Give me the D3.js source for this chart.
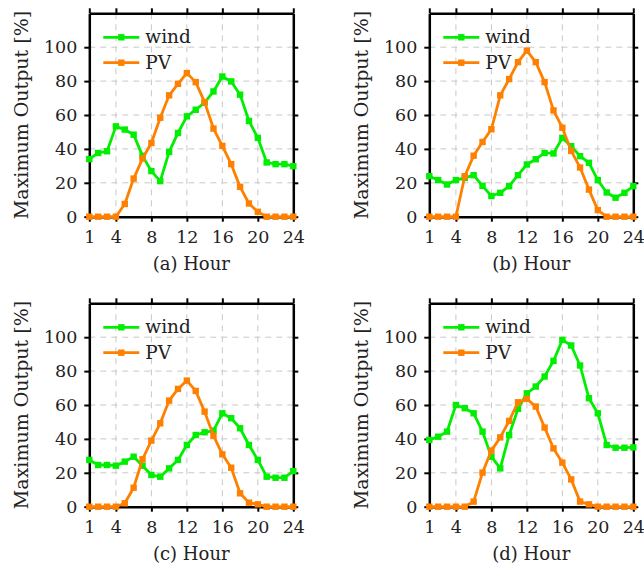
<!DOCTYPE html>
<html>
<head>
<meta charset="utf-8">
<script src="https://cdn.jsdelivr.net/npm/d3@7"></script>
<style>
  html, body { margin: 0; padding: 0; background: #fff; }
  svg { display: block; }
</style>
</head>
<body>
<svg id="chart" width="644" height="573"></svg>
<script>
const hours = [1,2,3,4,5,6,7,8,9,10,11,12,13,14,15,16,17,18,19,20,21,22,23,24];
const xTicks = [1,4,8,12,16,20,24];
const yTicks = [0,20,40,60,80,100];
const seriesNames = ["wind", "PV"];
const panelLabels = ["(a) Hour", "(b) Hour", "(c) Hour", "(d) Hour"];

const windA = [34,37.6,38.6,53.3,51.4,48.4,35.9,26.9,21,38.2,49.4,59.2,63.1,67.3,73.9,82.7,79.8,72,56.5,46.5,32,31,31,29.8];
const pvA   = [0,0,0,0,7.5,22.5,34.3,43.5,58.4,71.6,78.4,84.7,79.4,67.6,52,41.8,31,17.6,7.8,2.9,0,0,0,0];

const windB = [23.9,21.6,19,21.6,22.9,24.5,18.2,12.2,14.1,18,24.5,30.8,33.9,37.6,37.3,46.5,41.6,35.7,31.8,21.6,14.3,11.2,14.1,18];
const pvB   = [0,0,0,0,23.9,36,44.1,51.6,71.6,81.2,91.2,98,91.2,79.4,62.7,52.5,38.8,29,16,3.9,0,0,0,0];

const windC = [27.6,24.6,24.6,24.2,26.6,29.5,24.2,18.7,17.7,22.6,27.6,36.4,42.3,43.9,44.9,55.1,52.2,46.3,36.4,27.6,17.7,17.1,17.1,21];
const pvC   = [0,0,0,0,2,11.2,28,39,49.2,62.6,69.5,74.4,68.3,56.1,41.9,30.9,23,7.9,2.4,1.4,0,0,0,0];

const windD = [39.4,41.3,44.3,60,58.1,55.1,44.3,29.5,22.6,42.3,57.7,66.9,70.9,76.8,86,98.4,95.1,83.3,64,55.1,36.4,34.8,34.8,35];
const pvD   = [0,0,0,0,0,3,20.1,33.1,40.9,50.6,61.6,63.6,59.1,46.7,34.4,26,16.1,3,1.4,0,0,0,0,0];

const panels = [
  {label: panelLabels[0], wind: windA, pv: pvA, left: 89.3,  top: 13.3},
  {label: panelLabels[1], wind: windB, pv: pvB, left: 429.3, top: 13.3},
  {label: panelLabels[2], wind: windC, pv: pvC, left: 89.3,  top: 303.3},
  {label: panelLabels[3], wind: windD, pv: pvD, left: 429.3, top: 303.3}
];

const W = 204, H = 203.4;
const colors = {wind: "#00ee00", PV: "#ff8000"};
const FONT = "'DejaVu Serif', serif";
const svg = d3.select("#chart");

panels.forEach(p => {
  const g = svg.append("g").attr("transform", `translate(${p.left},${p.top})`);
  const x = d3.scaleLinear().domain([1, 24]).range([0, W]);
  const y = d3.scaleLinear().domain([0, 120]).range([H, 0]);

  // grid
  const grid = g.append("g").attr("stroke", "#c8c8c8").attr("stroke-width", 1).attr("stroke-dasharray", "6,5");
  grid.selectAll("line.vx").data(xTicks.filter(t => t > 1 && t < 24)).join("line")
    .attr("x1", d => x(d)).attr("x2", d => x(d)).attr("y1", 0).attr("y2", H);
  grid.selectAll("line.hy").data(yTicks.filter(t => t > 0)).join("line")
    .attr("x1", 0).attr("x2", W).attr("y1", d => y(d)).attr("y2", d => y(d));

  // axes
  const styleAxis = sel => {
    sel.select(".domain").attr("stroke", "#000").attr("stroke-width", 2.5);
    sel.selectAll(".tick line").attr("stroke", "#000").attr("stroke-width", 2);
    sel.selectAll(".tick text").attr("font-family", FONT).attr("font-size", 17.5).attr("fill", "#222");
  };
  g.append("g").attr("transform", `translate(0,${H})`)
    .call(d3.axisBottom(x).tickValues(xTicks).tickSize(5).tickPadding(9.3).tickSizeOuter(0))
    .call(styleAxis);
  g.append("g")
    .call(d3.axisTop(x).tickValues(xTicks).tickSize(5).tickFormat("").tickSizeOuter(0))
    .call(styleAxis);
  g.append("g")
    .call(d3.axisLeft(y).tickValues(yTicks).tickSize(5).tickPadding(7).tickSizeOuter(0))
    .call(styleAxis);
  g.append("g").attr("transform", `translate(${W},0)`)
    .call(d3.axisRight(y).tickValues(yTicks).tickSize(5).tickFormat("").tickSizeOuter(0))
    .call(styleAxis);

  // series
  const line = d3.line().x((d, i) => x(hours[i])).y(d => y(d));
  [["wind", p.wind], ["PV", p.pv]].forEach(([name, vals]) => {
    g.append("path").datum(vals).attr("d", line)
      .attr("fill", "none").attr("stroke", colors[name]).attr("stroke-width", 2.8)
      .attr("stroke-linejoin", "round");
    g.append("g").selectAll("rect").data(vals).join("rect")
      .attr("x", (d, i) => x(hours[i]) - 3.2).attr("y", d => y(d) - 3.2)
      .attr("width", 6.4).attr("height", 6.4).attr("fill", colors[name]);
  });

  // legend
  seriesNames.forEach((name, i) => {
    const ly = 24 + i * 25.4;
    const lg = g.append("g");
    lg.append("line").attr("x1", 14).attr("x2", 50).attr("y1", ly).attr("y2", ly)
      .attr("stroke", colors[name]).attr("stroke-width", 2.8);
    lg.append("rect").attr("x", 32 - 3.2).attr("y", ly - 3.2).attr("width", 6.4).attr("height", 6.4)
      .attr("fill", colors[name]);
    lg.append("text").attr("x", 56).attr("y", ly + 6).text(name)
      .attr("font-family", FONT).attr("font-size", 18.5).attr("fill", "#222");
  });

  // axis titles
  g.append("text").attr("transform", `translate(-68,${H / 2}) rotate(-90)`)
    .attr("text-anchor", "middle").attr("dominant-baseline", "central")
    .attr("font-family", FONT).attr("font-size", 19).attr("fill", "#222")
    .text("Maximum Output [%]");
  g.append("text").attr("x", W / 2).attr("y", H + 53.3)
    .attr("text-anchor", "middle")
    .attr("font-family", FONT).attr("font-size", 18).attr("fill", "#222")
    .text(p.label);
});
</script>
</body>
</html>
